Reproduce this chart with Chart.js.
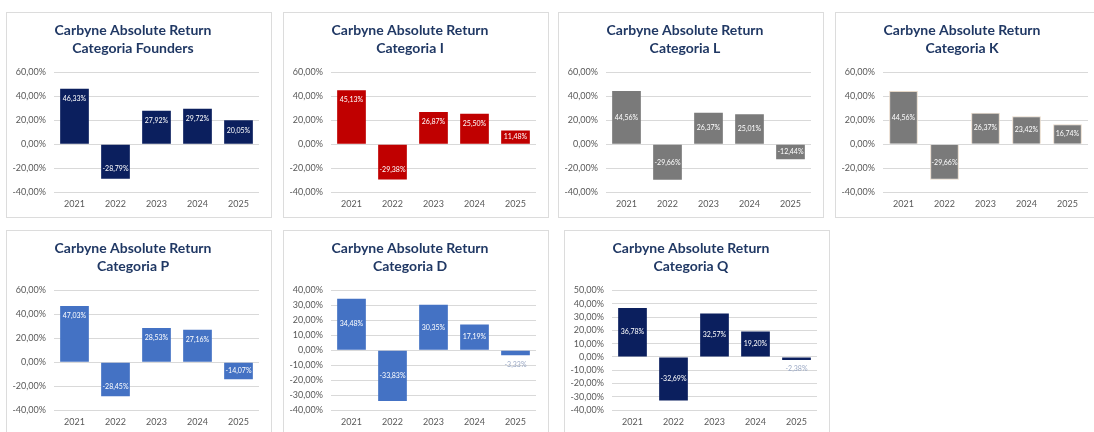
<!DOCTYPE html>
<html>
<head>
<meta charset="utf-8">
<script src="https://cdn.jsdelivr.net/npm/chart.js@4.4.1/dist/chart.umd.min.js"></script>
<style>
    body { margin: 0; background: #fff; width: 1094px; height: 432px; overflow: hidden; position: relative; }
    .panel { position: absolute; width: 266px; height: 206px; background: #fff; border: 1px solid #dcdcdc; box-sizing: border-box; }
    .panel canvas { display: block; }
</style>
</head>
<body>
<div class="panel" style="left:6px;top:12px"><canvas id="g1"></canvas></div>
<div class="panel" style="left:283px;top:12px"><canvas id="g2"></canvas></div>
<div class="panel" style="left:558px;top:12px"><canvas id="g3"></canvas></div>
<div class="panel" style="left:835px;top:12px"><canvas id="g4"></canvas></div>
<div class="panel" style="left:6px;top:230px"><canvas id="g5"></canvas></div>
<div class="panel" style="left:283px;top:230px"><canvas id="g6"></canvas></div>
<div class="panel" style="left:564px;top:230px"><canvas id="g7"></canvas></div>
<script>
// ------------------------------------------------------------------------------
// CARBYNE ABSOLUTE RETURN - rentabilidad anual por categoria
// ------------------------------------------------------------------------------
const anios = ['2021', '2022', '2023', '2024', '2025'];

const catFounders = [46.33, -28.79, 27.92, 29.72, 20.05];
const catI = [45.13, -29.38, 26.87, 25.50, 11.48];
const catL = [44.56, -29.66, 26.37, 25.01, -12.44];
const catK = [44.56, -29.66, 26.37, 23.42, 16.74];
const catP = [47.03, -28.45, 28.53, 27.16, -14.07];
const catD = [34.48, -33.83, 30.35, 17.19, -3.33];
const catQ = [36.78, -32.69, 32.57, 19.20, -2.38];

// rangos del eje Y: [min, max, paso]
const ejeA = [-40, 60, 20];
const ejeD = [-40, 40, 10];
const ejeQ = [-40, 50, 10];

function fmt(v) {
    return v.toFixed(2).replace('.', ',') + '%';
}

const etiquetas = {
    id: 'etiquetas',
    afterDatasetsDraw(chart, args, opts) {
        const ctx = chart.ctx;
        const meta = chart.getDatasetMeta(0);
        const data = chart.data.datasets[0].data;
        ctx.save();
        ctx.font = '7px Lato';
        ctx.textAlign = 'center';
        ctx.textBaseline = 'middle';
        meta.data.forEach((bar, i) => {
            const v = data[i];
            const h = Math.abs(bar.base - bar.y);
            let y;
            ctx.fillStyle = '#ffffff';
            if (h < 9) {
                // barra muy chica: etiqueta fuera
                y = v < 0 ? bar.y + 9 : bar.y - 9;
                ctx.fillStyle = '#9aa8c4';
            } else if (opts.modo == 'centro') {
                y = (bar.y + bar.base) / 2;
            } else {
                y = v >= 0 ? bar.y + 10 : bar.y - 10;
                if (h < 20) y = (bar.y + bar.base) / 2;
            }
            ctx.fillText(fmt(v), bar.x, y);
        });
        ctx.restore();
    }
};

function grafico(id, nombre, datos, color, eje, modo, borde) {
    const el = document.getElementById(id);
    el.width = 264;
    el.height = 204;
    return new Chart(el, {
        type: 'bar',
        data: {
            labels: anios,
            datasets: [{
                data: datos,
                backgroundColor: color,
                borderColor: borde || color,
                borderWidth: borde ? 1 : 0,
                barPercentage: 0.7,
                categoryPercentage: 1,
            }]
        },
        options: {
            responsive: false,
            animation: false,
            events: [],
            layout: { padding: { top: 8, right: 12, bottom: 2, left: 0 } },
            plugins: {
                legend: { display: false },
                tooltip: { enabled: false },
                title: {
                    display: true,
                    text: ['Carbyne Absolute Return', nombre],
                    color: '#203864',
                    font: { family: 'Lato', size: 14, weight: 'bold', lineHeight: 1.3 },
                    padding: { top: 0, bottom: 15 }
                },
                etiquetas: { modo: modo }
            },
            scales: {
                x: {
                    grid: { display: false, drawTicks: false },
                    border: { display: false },
                    ticks: { color: '#595959', font: { family: 'Lato', size: 9 }, padding: 6 }
                },
                y: {
                    min: eje[0],
                    max: eje[1],
                    afterFit: (s) => { s.width = 47; },
                    grid: { color: '#d9d9d9', drawTicks: false },
                    border: { display: false },
                    ticks: {
                        stepSize: eje[2],
                        autoSkip: false,
                        color: '#595959',
                        font: { family: 'Lato', size: 9 },
                        padding: 8,
                        callback: (v) => fmt(v)
                    }
                }
            }
        },
        plugins: [etiquetas]
    });
}

grafico('g1', 'Categoria Founders', catFounders, '#0b1f5e', ejeA, 'fin');
grafico('g2', 'Categoria I', catI, '#c00000', ejeA, 'fin');
grafico('g3', 'Categoria L', catL, '#7a7a7a', ejeA, 'centro');
grafico('g4', 'Categoria K', catK, '#7a7a7a', ejeA, 'centro', '#e6d8c8');
grafico('g5', 'Categoria P', catP, '#4472c4', ejeA, 'fin');
grafico('g6', 'Categoria D', catD, '#4472c4', ejeD, 'centro');
grafico('g7', 'Categoria Q', catQ, '#0b1f5e', ejeQ, 'centro');
</script>
</body>
</html>
